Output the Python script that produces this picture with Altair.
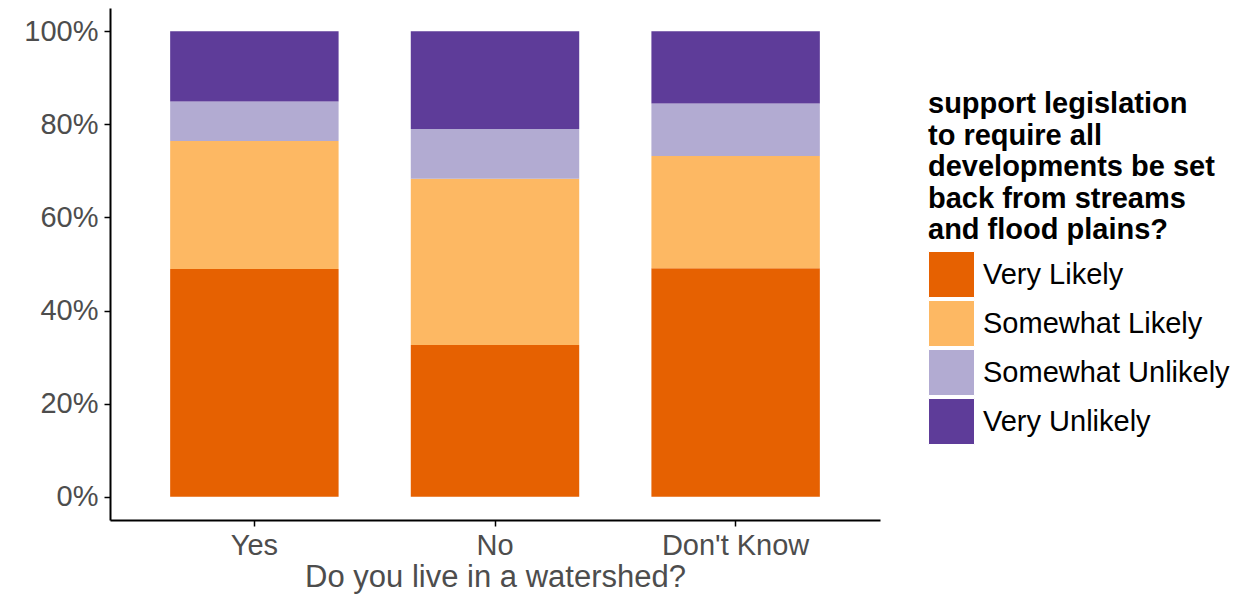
import altair as alt
import pandas as pd

groups = ["Yes", "No", "Don't Know"]
responses = ["Very Likely", "Somewhat Likely", "Somewhat Unlikely", "Very Unlikely"]
very_likely = [0.489, 0.326, 0.491]
somewhat_likely = [0.275, 0.357, 0.241]
somewhat_unlikely = [0.085, 0.107, 0.113]
very_unlikely = [0.151, 0.210, 0.155]
colors = ["#e66101", "#fdb863", "#b2abd2", "#5e3c99"]
y_ticks = [0, 0.2, 0.4, 0.6, 0.8, 1.0]

series = [very_likely, somewhat_likely, somewhat_unlikely, very_unlikely]
rows = []
for ri, (resp, vals) in enumerate(zip(responses, series)):
    for g, v in zip(groups, vals):
        rows.append({"group": g, "response": resp, "share": v, "order": ri})
df = pd.DataFrame(rows)

FONT = "Liberation Sans"

chart = alt.Chart(df).mark_bar(stroke=None).encode(
    x=alt.X("group:N", sort=groups, title="Do you live in a watershed?",
            scale=alt.Scale(paddingInner=0.3, paddingOuter=0.25),
            axis=alt.Axis(labelAngle=0, labelFontSize=29, labelColor="#4d4d4d",
                          titleFontSize=31, titleColor="#4d4d4d", titleFontWeight="normal",
                          titlePadding=2, labelPadding=5, tickSize=6, tickColor="black",
                          domainColor="black", domainWidth=2, tickWidth=1.5,
                          labelFont=FONT, titleFont=FONT, labelLimit=400, titleLimit=900)),
    y=alt.Y("share:Q", stack="zero", title=None,
            scale=alt.Scale(domain=[-0.05, 1.05], nice=False, zero=False),
            axis=alt.Axis(values=y_ticks, format=".0%", labelFontSize=29,
                          labelColor="#4d4d4d", labelPadding=6, tickSize=6,
                          tickColor="black", domainColor="black", domainWidth=2,
                          tickWidth=1.5, grid=False, labelFont=FONT)),
    color=alt.Color("response:N", sort=responses,
                    scale=alt.Scale(domain=responses, range=colors),
                    legend=alt.Legend(
                        title=["support legislation", "to require all",
                               "developments be set", "back from streams",
                               "and flood plains?"],
                        titleFontSize=29, titleFontWeight="bold", titleColor="black",
                        titleLineHeight=31.5, titleFont=FONT, titlePadding=6,
                        titleLimit=600,
                        labelFontSize=29, labelColor="black", labelFont=FONT,
                        labelLimit=600,
                        labelOffset=8, symbolType="square", symbolSize=2116,
                        symbolStrokeColor="white", symbolStrokeWidth=1,
                        symbolOpacity=1, rowPadding=-8,
                        orient="none", legendX=818, legendY=82)),
    order=alt.Order("order:Q", sort="ascending"),
).properties(
    width=770, height=512,
    autosize=alt.AutoSizeParams(type="none"),
    padding={"left": 102, "top": 0, "right": 352, "bottom": 75},
).configure(font=FONT).configure_view(stroke=None)

chart.save("out.html", embed_options={"renderer": "svg", "actions": False})
